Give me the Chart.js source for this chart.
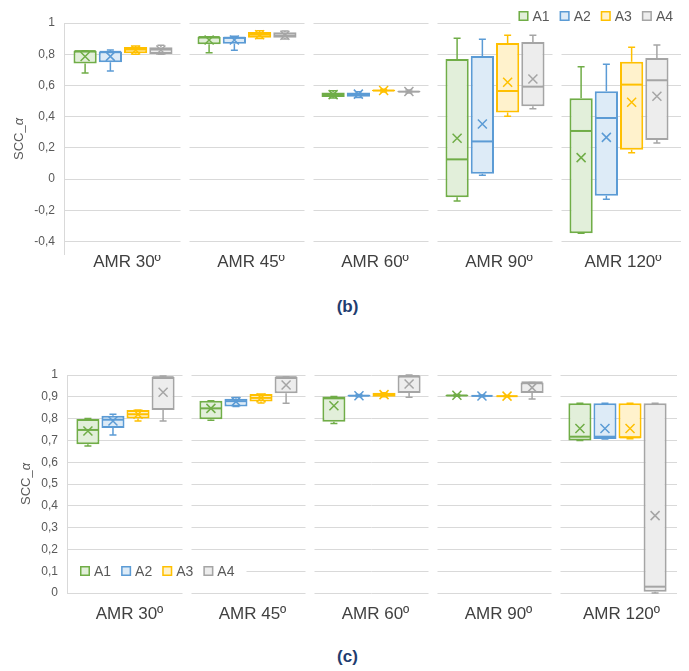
<!DOCTYPE html>
<html>
<head>
<meta charset="utf-8">
<script src="https://cdn.jsdelivr.net/npm/chart.js@4.4.1/dist/chart.umd.min.js"></script>
<style>
  html, body { margin: 0; padding: 0; background: #ffffff; }
  body { position: relative; width: 689px; height: 671px; overflow: hidden; font-family: "Liberation Sans", Arial, sans-serif; }
  canvas { position: absolute; left: 0; }
  #chartB { top: 0; }
  #chartC { top: 350px; }
  .caption { position: absolute; left: 0; width: 695px; text-align: center; font-weight: bold; font-size: 17px; line-height: 20px; color: #1f3d70; }
</style>
</head>
<body>
<canvas id="chartB" width="689" height="280" style="width:689px;height:280px"></canvas>
<div class="caption" style="top:297px">(b)</div>
<canvas id="chartC" width="689" height="278" style="width:689px;height:278px"></canvas>
<div class="caption" style="top:647px">(c)</div>
<script>
const CATEGORIES = ['AMR 30º', 'AMR 45º', 'AMR 60º', 'AMR 90º', 'AMR 120º'];
const SERIES = ['A1', 'A2', 'A3', 'A4'];
const LINE_COLORS = ['#70ad47', '#5b9bd5', '#ffc000', '#a5a5a5'];
const FILL_COLORS = ['#e2efda', '#ddebf7', '#fff2cc', '#ededed'];
const Y_TITLE = ['SCC_', 'α'];

// Each row: [whisker low, Q1, median, Q3, whisker high, mean], one row per category
const B_A1 = [
  [0.680, 0.741, 0.820, 0.822, 0.822, 0.785],
  [0.810, 0.863, 0.910, 0.912, 0.912, 0.891],
  [0.520, 0.525, 0.540, 0.555, 0.565, 0.541],
  [-0.141, -0.117, 0.126, 0.769, 0.902, 0.261],
  [-0.348, -0.348, 0.308, 0.517, 0.720, 0.137]
];
const B_A2 = [
  [0.692, 0.748, 0.815, 0.818, 0.827, 0.786],
  [0.825, 0.867, 0.905, 0.912, 0.915, 0.891],
  [0.522, 0.527, 0.545, 0.555, 0.560, 0.544],
  [0.024, 0.034, 0.241, 0.788, 0.896, 0.353],
  [-0.130, -0.107, 0.391, 0.562, 0.735, 0.267]
];
const B_A3 = [
  [0.800, 0.806, 0.830, 0.846, 0.853, 0.827],
  [0.900, 0.906, 0.925, 0.942, 0.950, 0.925],
  [0.558, 0.562, 0.567, 0.572, 0.575, 0.567],
  [0.402, 0.427, 0.564, 0.872, 0.921, 0.620],
  [0.169, 0.188, 0.605, 0.752, 0.844, 0.492]
];
const B_A4 = [
  [0.800, 0.801, 0.830, 0.844, 0.857, 0.827],
  [0.897, 0.906, 0.920, 0.940, 0.949, 0.922],
  [0.552, 0.556, 0.560, 0.564, 0.570, 0.561],
  [0.451, 0.466, 0.592, 0.878, 0.921, 0.641],
  [0.231, 0.250, 0.633, 0.776, 0.859, 0.530]
];

const C_A1 = [
  [0.674, 0.682, 0.748, 0.798, 0.800, 0.743],
  [0.792, 0.797, 0.847, 0.882, 0.882, 0.847],
  [0.778, 0.786, 0.893, 0.901, 0.901, 0.859],
  [0.902, 0.904, 0.906, 0.908, 0.910, 0.907],
  [0.700, 0.700, 0.717, 0.870, 0.870, 0.755]
];
const C_A2 = [
  [0.725, 0.757, 0.795, 0.813, 0.820, 0.789],
  [0.856, 0.856, 0.880, 0.891, 0.897, 0.878],
  [0.900, 0.902, 0.905, 0.908, 0.910, 0.905],
  [0.900, 0.902, 0.904, 0.906, 0.908, 0.904],
  [0.706, 0.706, 0.717, 0.870, 0.870, 0.755]
];
const C_A3 = [
  [0.789, 0.801, 0.820, 0.839, 0.839, 0.820],
  [0.871, 0.878, 0.895, 0.913, 0.913, 0.895],
  [0.900, 0.900, 0.910, 0.919, 0.919, 0.910],
  [0.900, 0.901, 0.903, 0.905, 0.906, 0.903],
  [0.708, 0.710, 0.714, 0.870, 0.870, 0.755]
];
const C_A4 = [
  [0.789, 0.839, 0.990, 0.991, 0.995, 0.921],
  [0.870, 0.916, 0.990, 0.991, 0.991, 0.954],
  [0.898, 0.917, 0.995, 0.997, 1.000, 0.959],
  [0.890, 0.917, 0.966, 0.966, 0.966, 0.942],
  [0.000, 0.006, 0.029, 0.870, 0.870, 0.355]
];

const TICKS_B = [-0.4, -0.2, 0, 0.2, 0.4, 0.6, 0.8, 1];
const TICKS_C = [0, 0.1, 0.2, 0.3, 0.4, 0.5, 0.6, 0.7, 0.8, 0.9, 1];

const FONT = '"Liberation Sans", Arial, sans-serif';
Chart.defaults.font.family = FONT;

// decimal comma labels, as in the printed axis
function fmtTick(v) {
  return Number.isInteger(v) ? String(v) : v.toFixed(1).replace('.', ',');
}

// boxes are floating bars [Q1, Q3]; whiskers, medians and mean crosses are added on top
const boxPlot = {
  id: 'boxPlot',
  beforeDatasetsDraw(chart, args, opts) {
    const { ctx, chartArea: a, scales: { x } } = chart;
    ctx.save();
    ctx.fillStyle = '#ffffff';
    for (let i = 0; i < x.ticks.length - 1; i++) {
      const bx = (x.getPixelForTick(i) + x.getPixelForTick(i + 1)) / 2;
      ctx.fillRect(bx - opts.gap / 2, a.top - 2, opts.gap, a.height + 4);
    }
    ctx.fillRect(a.left - 1, a.top - 2, opts.insetLeft + 1, a.height + 4);
    if (opts.insetRight) ctx.fillRect(a.right - opts.insetRight, a.top - 2, opts.insetRight + 2, a.height + 4);
    const ax = Math.round(a.left + opts.insetLeft) + 0.5;
    ctx.strokeStyle = '#d9d9d9';
    ctx.lineWidth = 1;
    ctx.beginPath();
    ctx.moveTo(ax, a.top);
    ctx.lineTo(ax, a.bottom);
    ctx.stroke();
    ctx.restore();
  },
  afterDatasetsDraw(chart) {
    const { ctx, scales: { y } } = chart;
    ctx.save();
    chart.data.datasets.forEach((ds, di) => {
      const meta = chart.getDatasetMeta(di);
      ctx.strokeStyle = ds.borderColor;
      meta.data.forEach((bar, i) => {
        const [lo, q1, med, q3, hi, mean] = ds.summary[i];
        const cx = bar.x;
        const half = bar.width / 2;
        const cap = 3.5;
        ctx.lineWidth = 1.5;
        ctx.beginPath();
        if (hi > q3) { ctx.moveTo(cx, y.getPixelForValue(q3)); ctx.lineTo(cx, y.getPixelForValue(hi)); }
        if (lo < q1) { ctx.moveTo(cx, y.getPixelForValue(q1)); ctx.lineTo(cx, y.getPixelForValue(lo)); }
        ctx.moveTo(cx - cap, y.getPixelForValue(hi)); ctx.lineTo(cx + cap, y.getPixelForValue(hi));
        ctx.moveTo(cx - cap, y.getPixelForValue(lo)); ctx.lineTo(cx + cap, y.getPixelForValue(lo));
        ctx.stroke();
        ctx.lineWidth = 2;
        ctx.beginPath();
        const my = y.getPixelForValue(med);
        ctx.moveTo(cx - half + 1, my); ctx.lineTo(cx + half - 1, my);
        ctx.stroke();
        const ey = y.getPixelForValue(mean);
        const s = 4.5;
        ctx.lineWidth = 1.5;
        ctx.beginPath();
        ctx.moveTo(cx - s, ey - s); ctx.lineTo(cx + s, ey + s);
        ctx.moveTo(cx - s, ey + s); ctx.lineTo(cx + s, ey - s);
        ctx.stroke();
      });
    });
    ctx.restore();
  }
};

// legend drawn inside the plot, with a white backing
const boxLegend = {
  id: 'boxLegend',
  afterDraw(chart, args, opts) {
    const { ctx, chartArea: a } = chart;
    ctx.save();
    ctx.font = '14px ' + FONT;
    const sw = 10, gapTxt = 4, gapItem = 10;
    const widths = chart.data.datasets.map(ds => sw + gapTxt + ctx.measureText(ds.label).width);
    const total = widths.reduce((s, w) => s + w, 0) + gapItem * (widths.length - 1);
    let x = opts.align === 'end' ? a.right - opts.dx - total : a.left + opts.dx;
    const yc = opts.align === 'end' ? a.top + opts.dy : a.bottom + opts.dy;
    ctx.fillStyle = '#ffffff';
    const bgLeft = opts.align === 'end' ? x - 8 : a.left + 4;
    ctx.fillRect(bgLeft, yc - 9, x + total + 12 - bgLeft, 19);
    chart.data.datasets.forEach((ds, i) => {
      ctx.fillStyle = ds.backgroundColor;
      ctx.fillRect(x, yc - sw / 2, sw, sw);
      ctx.strokeStyle = ds.borderColor;
      ctx.lineWidth = 1.5;
      ctx.strokeRect(x + 0.75, yc - sw / 2 + 0.75, sw - 1.5, sw - 1.5);
      ctx.fillStyle = '#595959';
      ctx.textBaseline = 'middle';
      ctx.textAlign = 'left';
      ctx.fillText(ds.label, x + sw + gapTxt, yc + 1);
      x += widths[i] + gapItem;
    });
    ctx.restore();
  }
};

// rotated value-axis title with an italic alpha
const yTitle = {
  id: 'yTitle',
  afterDraw(chart, args, opts) {
    const { ctx, chartArea: a } = chart;
    ctx.save();
    ctx.translate(opts.x, (a.top + a.bottom) / 2);
    ctx.rotate(-Math.PI / 2);
    ctx.fillStyle = '#595959';
    ctx.textBaseline = 'middle';
    ctx.textAlign = 'left';
    const fNorm = '13px ' + FONT, fItal = 'italic 13px ' + FONT;
    ctx.font = fNorm;
    const w1 = ctx.measureText(Y_TITLE[0]).width;
    ctx.font = fItal;
    const w2 = ctx.measureText(Y_TITLE[1]).width;
    let x0 = -(w1 + w2) / 2;
    ctx.font = fNorm;
    ctx.fillText(Y_TITLE[0], x0, 0);
    ctx.font = fItal;
    ctx.fillText(Y_TITLE[1], x0 + w1, 0);
    ctx.restore();
  }
};

function makeDatasets(stats) {
  return SERIES.map((name, i) => ({
    label: name,
    data: stats[i].map(r => [r[1], r[3]]),
    summary: stats[i],
    backgroundColor: FILL_COLORS[i],
    borderColor: LINE_COLORS[i],
    borderWidth: 2,
    borderSkipped: false,
    categoryPercentage: 0.815,
    barPercentage: 0.92
  }));
}

function makeChart(id, stats, cfg) {
  return new Chart(document.getElementById(id), {
    type: 'bar',
    data: { labels: CATEGORIES, datasets: makeDatasets(stats) },
    plugins: [boxPlot, boxLegend, yTitle],
    options: {
      responsive: false,
      devicePixelRatio: 1,
      animation: false,
      layout: { padding: { left: 0, top: cfg.top, right: cfg.right, bottom: 0 } },
      plugins: {
        legend: { display: false },
        tooltip: { enabled: false },
        boxPlot: { gap: 9, insetLeft: 3, insetRight: cfg.insetRight },
        boxLegend: cfg.legend,
        yTitle: { x: cfg.titleX }
      },
      scales: {
        x: {
          type: 'category',
          grid: { display: false, drawTicks: false },
          border: { display: false },
          ticks: { font: { size: 17 }, color: '#404040', padding: cfg.xPad, labelOffset: 4, maxRotation: 0, autoSkip: false },
          afterFit: s => { s.height = cfg.xHeight; }
        },
        y: {
          min: cfg.min,
          max: 1,
          grid: { color: '#d9d9d9', lineWidth: 1, drawTicks: false },
          border: { display: false },
          ticks: { font: { size: 12 }, color: '#595959', padding: 6, callback: v => fmtTick(v) },
          afterBuildTicks: s => { s.ticks = cfg.ticks.map(v => ({ value: v })); },
          afterFit: s => { s.width = cfg.left; }
        }
      }
    }
  });
}

makeChart('chartB', [B_A1, B_A2, B_A3, B_A4], {
  top: 23, right: 8, left: 61, min: -0.487, ticks: TICKS_B,
  xHeight: 25, xPad: -3, insetRight: 0, titleX: 19,
  legend: { align: 'end', dx: 8, dy: -7 }
});

makeChart('chartC', [C_A1, C_A2, C_A3, C_A4], {
  top: 25, right: 10, left: 64, min: 0, ticks: TICKS_C,
  xHeight: 35, xPad: 11, insetRight: 2, titleX: 26,
  legend: { align: 'start', dx: 16, dy: -22 }
});
</script>
</body>
</html>
